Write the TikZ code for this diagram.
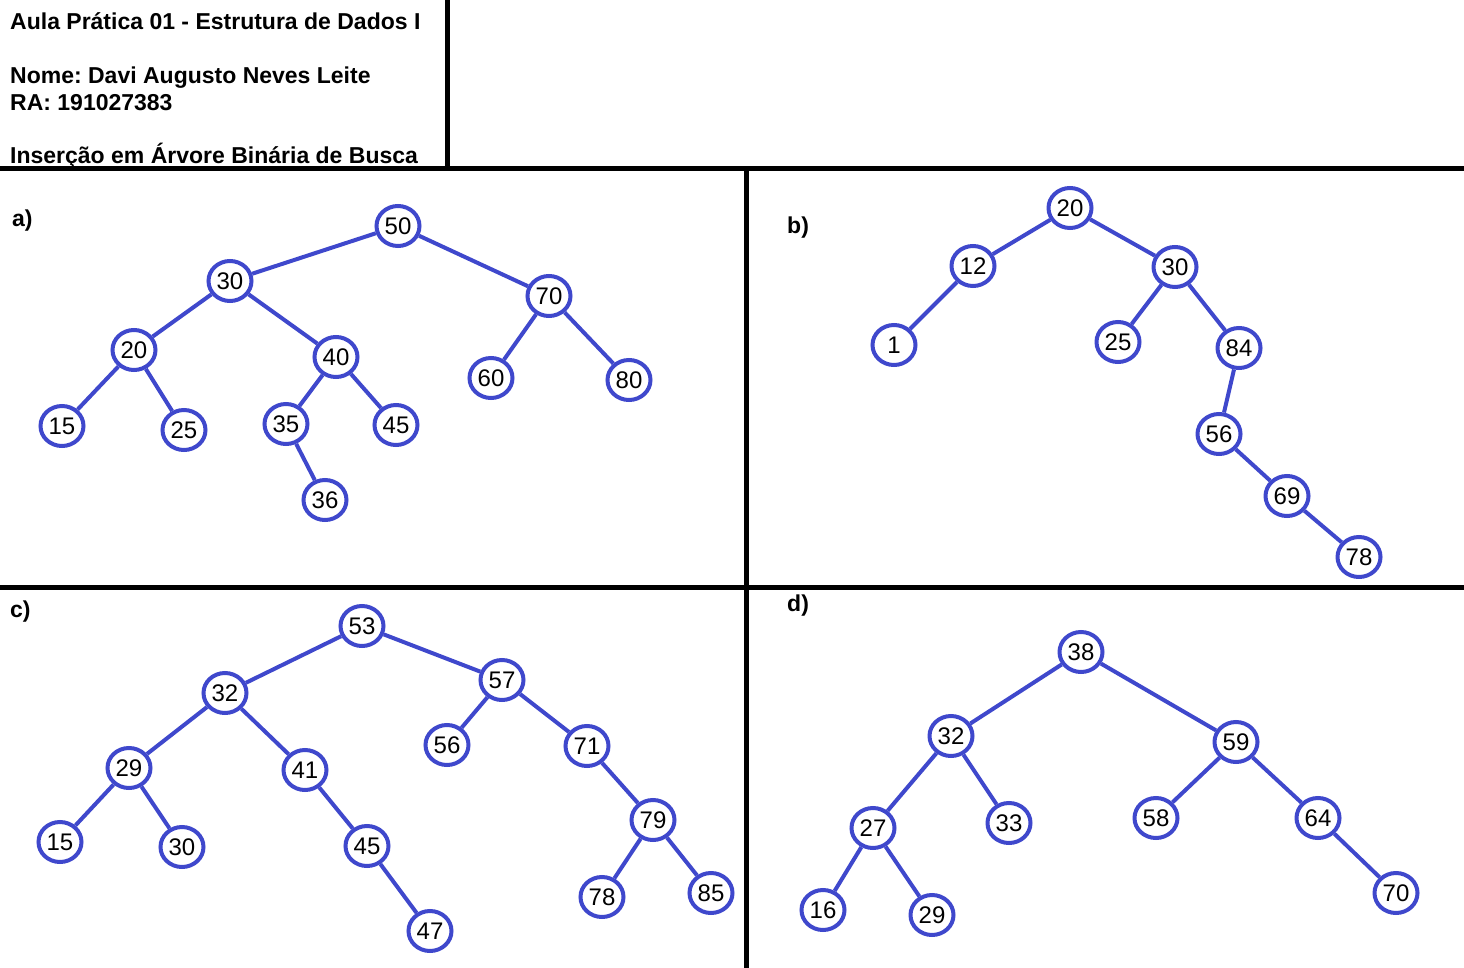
\documentclass[tikz,border=0pt]{standalone}
\usepackage{fontspec}
\setmainfont{Liberation Sans}
\usetikzlibrary{shapes.geometric}
\definecolor{treeblue}{RGB}{63,72,204}
\frenchspacing

\begin{document}
\begin{tikzpicture}[x=1pt, y=-1pt,
        key/.style={ellipse, draw=treeblue, line width=4pt, fill=white,
                minimum width=43pt, minimum height=40pt, inner sep=0pt,
                font=\fontsize{24}{28}\selectfont},
        edge/.style={draw=treeblue, line width=4pt},
        sep/.style={draw=black, line width=5pt},
        head/.style={anchor=base west, inner sep=0pt,
                font=\fontsize{23}{27}\selectfont\bfseries}]
        \useasboundingbox (0,0) rectangle (1464,968);

        % header
        \node[head] (title) at (10,30) {Aula Prática 01 - Estrutura de Dados I};
        \node[head] (nome) at (10,84) {Nome: Davi Augusto Neves Leite};
        \node[head] (ra) at (10,111) {RA: 191027383};
        \node[head] (tema) at (10,164) {Inserção em Árvore Binária de Busca};

        \draw[sep] (447,0) -- (447,169);
        \draw[sep] (0,169) -- (1464,169);
        \draw[sep] (746,169) -- (746,968);
        \draw[sep] (0,587) -- (1464,587);

        % a)
        \node[head] (la) at (12,227) {a)};
        \node[key] (a50) at (398,226) {50};
        \node[key] (a30) at (230,281) {30};
        \node[key] (a70) at (549,296) {70};
        \node[key] (a20) at (134,350) {20};
        \node[key] (a40) at (336,357) {40};
        \node[key] (a60) at (491,378) {60};
        \node[key] (a80) at (629,380) {80};
        \node[key] (a15) at (62,426) {15};
        \node[key] (a25) at (184,430) {25};
        \node[key] (a35) at (286,424) {35};
        \node[key] (a45) at (396,425) {45};
        \node[key] (a36) at (325,500) {36};
        \draw[edge] (a50) -- (a30);
        \draw[edge] (a50) -- (a70);
        \draw[edge] (a30) -- (a20);
        \draw[edge] (a30) -- (a40);
        \draw[edge] (a20) -- (a15);
        \draw[edge] (a20) -- (a25);
        \draw[edge] (a40) -- (a35);
        \draw[edge] (a40) -- (a45);
        \draw[edge] (a35) -- (a36);
        \draw[edge] (a70) -- (a60);
        \draw[edge] (a70) -- (a80);

        % b)
        \node[head] (lb) at (787,234) {b)};
        \node[key] (b20) at (1070,208) {20};
        \node[key] (b12) at (973,266) {12};
        \node[key] (b30) at (1175,267) {30};
        \node[key] (b1) at (894,345) {1};
        \node[key] (b25) at (1118,342) {25};
        \node[key] (b84) at (1239,348) {84};
        \node[key] (b56) at (1219,434) {56};
        \node[key] (b69) at (1287,496) {69};
        \node[key] (b78) at (1359,557) {78};
        \draw[edge] (b20) -- (b12);
        \draw[edge] (b20) -- (b30);
        \draw[edge] (b12) -- (b1);
        \draw[edge] (b30) -- (b25);
        \draw[edge] (b30) -- (b84);
        \draw[edge] (b84) -- (b56);
        \draw[edge] (b56) -- (b69);
        \draw[edge] (b69) -- (b78);

        % c)
        \node[head] (lc) at (10,617) {c)};
        \node[key] (c53) at (362,626) {53};
        \node[key] (c32) at (225,693) {32};
        \node[key] (c57) at (502,680) {57};
        \node[key] (c29) at (129,768) {29};
        \node[key] (c41) at (305,770) {41};
        \node[key] (c56) at (447,745) {56};
        \node[key] (c71) at (587,746) {71};
        \node[key] (c15) at (60,842) {15};
        \node[key] (c30) at (182,847) {30};
        \node[key] (c45) at (367,846) {45};
        \node[key] (c79) at (653,820) {79};
        \node[key] (c78) at (602,897) {78};
        \node[key] (c85) at (711,893) {85};
        \node[key] (c47) at (430,931) {47};
        \draw[edge] (c53) -- (c32);
        \draw[edge] (c53) -- (c57);
        \draw[edge] (c32) -- (c29);
        \draw[edge] (c32) -- (c41);
        \draw[edge] (c29) -- (c15);
        \draw[edge] (c29) -- (c30);
        \draw[edge] (c41) -- (c45);
        \draw[edge] (c45) -- (c47);
        \draw[edge] (c57) -- (c56);
        \draw[edge] (c57) -- (c71);
        \draw[edge] (c71) -- (c79);
        \draw[edge] (c79) -- (c78);
        \draw[edge] (c79) -- (c85);

        % d)
        \node[head] (ld) at (787,611) {d)};
        \node[key] (d38) at (1081,652) {38};
        \node[key] (d32) at (951,736) {32};
        \node[key] (d59) at (1236,742) {59};
        \node[key] (d27) at (873,828) {27};
        \node[key] (d33) at (1009,823) {33};
        \node[key] (d58) at (1156,818) {58};
        \node[key] (d64) at (1318,818) {64};
        \node[key] (d16) at (823,910) {16};
        \node[key] (d29) at (932,915) {29};
        \node[key] (d70) at (1396,893) {70};
        \draw[edge] (d38) -- (d32);
        \draw[edge] (d38) -- (d59);
        \draw[edge] (d32) -- (d27);
        \draw[edge] (d32) -- (d33);
        \draw[edge] (d27) -- (d16);
        \draw[edge] (d27) -- (d29);
        \draw[edge] (d59) -- (d58);
        \draw[edge] (d59) -- (d64);
        \draw[edge] (d64) -- (d70);
      \end{tikzpicture}
\end{document}
